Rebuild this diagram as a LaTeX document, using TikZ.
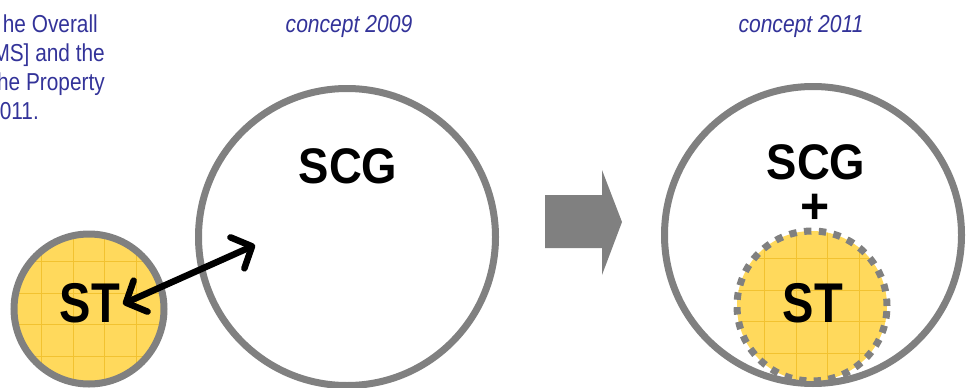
\documentclass[tikz,border=0pt]{standalone}
\usepackage{fontspec}
\setmainfont{Liberation Sans}
\usetikzlibrary{arrows.meta}
\definecolor{ringgray}{HTML}{808080}
\definecolor{sunfill}{HTML}{FFD95C}
\definecolor{sungrid}{HTML}{F2C230}
\definecolor{noteblue}{HTML}{333399}

\begin{document}
\begin{tikzpicture}[x=1pt,y=-1pt,
  ring/.style={circle, draw=ringgray, line width=7pt, inner sep=0pt, fill=white},
  sunny/.style={circle, inner sep=0pt, minimum size=150pt, fill=sunfill,
    draw=ringgray, line width=7pt,
    path picture={
      \foreach \k in {-78.75,-47.25,-15.75,15.75,47.25,78.75} {
        \draw[sungrid, line width=0.8pt]
          ([xshift=\k pt]path picture bounding box.center) ++(0,-90) -- ++(0,180);
        \draw[sungrid, line width=0.8pt]
          ([yshift=\k pt]path picture bounding box.center) ++(-90,0) -- ++(180,0);
      }}},
  bigword/.style={inner sep=0pt, anchor=base, text=black,
    font=\fontsize{50}{50}\selectfont\bfseries},
  stword/.style={inner sep=0pt, anchor=base, text=black,
    font=\fontsize{56}{56}\selectfont\bfseries},
  plussign/.style={inner sep=0pt, anchor=base, text=black, text height=26pt,
    text depth=0pt, font=\fontsize{50}{50}\selectfont\bfseries},
  caption/.style={inner sep=0pt, anchor=base, text=noteblue,
    font=\fontsize{24.5}{24.5}\selectfont\itshape},
  note/.style={inner sep=0pt, anchor=base east, text=noteblue,
    font=\fontsize{24.5}{24.5}\selectfont},
  link/.style={line width=6.5pt, line cap=round,
    {Straight Barb[length=16pt,width=34pt,round]}-{Straight Barb[length=16pt,width=34pt,round]}},
  blockarrow/.style={fill=ringgray}
]
\useasboundingbox (0,0) rectangle (966,388);
\clip (0,0) rectangle (966,388);

% explanatory note, running in from the left edge
\node[note] (noteA) at (98,32)  {\scalebox{0.85}[1]{he Overall}};
\node[note] (noteB) at (105,61) {\scalebox{0.85}[1]{MS] and the}};
\node[note] (noteC) at (105,90) {\scalebox{0.85}[1]{he Property}};
\node[note] (noteD) at (39,119) {\scalebox{0.85}[1]{011.}};

% column headings
\node[caption] (cap09) at (349,32) {\scalebox{0.86}[1]{concept 2009}};
\node[caption] (cap11) at (801,32) {\scalebox{0.86}[1]{concept 2011}};

% --- 2009: separate ST circle linked to the SCG circle
\node[ring, minimum size=297pt] (scgOld) at (347,237) {};
\node[sunny] (stOld) at (89,309) {};
\node[bigword] (scgOldLabel) at (348,183) {\scalebox{0.91}[1]{SCG}};
\node[stword] (stOldLabel) at (90,322) {\scalebox{0.84}[1]{ST}};

\coordinate (linkA) at (123,304);
\coordinate (linkB) at (255,245);
\draw[link] (linkA) -- (linkB);

% --- transition arrow
\fill[blockarrow] (545,195) -- (602,195) -- (602,170) -- (622,222)
  -- (602,275) -- (602,248) -- (545,248) -- cycle;

% --- 2011: ST merged into the SCG circle
\node[ring, minimum size=297pt] (scgNew) at (813,235) {};
\node[sunny, draw=none] (stNew) at (812,306) {};
\draw[ringgray, line width=7pt, dash pattern=on 7.4pt off 7.4pt]
  (stNew.center) circle[radius=75pt];
\node[bigword] (scgNewLabel) at (816,179) {\scalebox{0.91}[1]{SCG}};
\node[plussign] (plus) at (815,223) {+};
\node[stword] (stNewLabel) at (813,322) {\scalebox{0.84}[1]{ST}};
\end{tikzpicture}
\end{document}
